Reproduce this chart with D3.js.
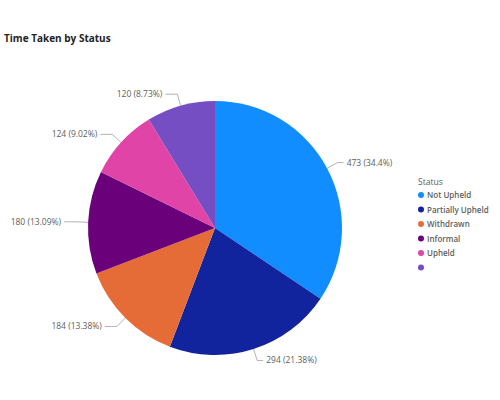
<!DOCTYPE html><html><head><meta charset="utf-8"><script src="https://cdn.jsdelivr.net/npm/d3@7"></script>
<style>body{margin:0;background:#fff;font-family:"Segoe UI","Open Sans",sans-serif}</style></head><body>
<svg id="c" width="500" height="400"></svg>
<script>
const categories=["Not Upheld","Partially Upheld","Withdrawn","Informal","Upheld",""];
const values=[473,294,184,180,124,120];
const labels=["473 (34.4%)","294 (21.38%)","184 (13.38%)","180 (13.09%)","124 (9.02%)","120 (8.73%)"];
const colors=["#118DFF","#12239E","#E66C37","#6B007B","#E044A7","#744EC2"];
const svg=d3.select("#c");
svg.append("text").attr("x",4).attr("y",42).attr("font-size",10).attr("font-weight","bold").attr("fill","#252423").text("Time Taken by Status");
const cx=215,cy=228,r=127;
const g=svg.append("g").attr("transform",`translate(${cx},${cy})`);
const pie=d3.pie().sort(null).value(d=>d)(values);
const arc=d3.arc().innerRadius(0).outerRadius(r);
g.selectAll("path").data(pie).join("path").attr("d",arc).attr("fill",(d,i)=>colors[i]);
pie.forEach((d,i)=>{
  const a=(d.startAngle+d.endAngle)/2, s=Math.sin(a), c=-Math.cos(a);
  const p1=[r*s,r*c], p2=[(r+12)*s,(r+12)*c];
  const right=s>=0, p3=[p2[0]+(right?6:-12),p2[1]];
  g.append("polyline").attr("points",[p1,p2,p3].map(p=>p.join(",")).join(" ")).attr("fill","none").attr("stroke","#b3b3b3").attr("stroke-width",1);
  g.append("text").attr("x",p3[0]+(right?3:-3)).attr("y",p3[1]).attr("dy","0.35em").attr("text-anchor",right?"start":"end").attr("font-size",8.5).attr("fill","#605e5c").text(labels[i]);
});
const lg=svg.append("g").attr("transform","translate(418,185)");
lg.append("text").attr("x",0).attr("y",0).attr("font-size",8.5).attr("fill","#605e5c").text("Status");
categories.forEach((c,i)=>{
  const y=13+i*14.5;
  lg.append("circle").attr("cx",3).attr("cy",y-3).attr("r",3).attr("fill",colors[i]);
  lg.append("text").attr("x",9).attr("y",y).attr("font-size",8).attr("font-weight",600).attr("fill","#605e5c").text(c);
});
</script></body></html>
